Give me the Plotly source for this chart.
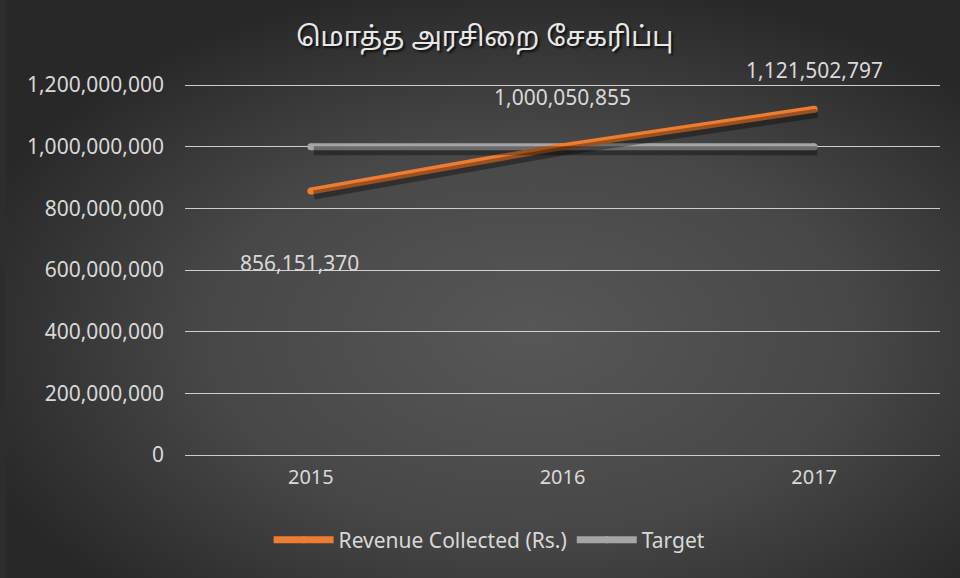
import base64
import plotly.graph_objects as go

# ---- data ----
years = ["2015", "2016", "2017"]
revenue = [856151370, 1000050855, 1121502797]
target = [1000000000, 1000000000, 1000000000]
y_ticks = [0, 200000000, 400000000, 600000000, 800000000, 1000000000, 1200000000]
title_text = "மொத்த அரசிறை சேகரிப்பு"
series_names = ["Revenue Collected (Rs.)", "Target"]

W, H = 960, 578
PAD = 4  # px of padding above/below the gridline extremes
L, R, T, B = 185, 20, 85 - PAD, 123 - PAD
PW, PH = W - L - R, H - T - B
YMAX = 1200000000
EPS = YMAX * PAD / (PH - 2 * PAD)

FONT = "Noto Sans, Open Sans, sans-serif"
TXT = "#d9d9d9"
ORANGE = "#ED7D31"
GRAY = "#A5A5A5"

# background radial gradient as svg image
svg = f'''<svg xmlns="http://www.w3.org/2000/svg" width="{W}" height="{H}" viewBox="0 0 {W} {H}" preserveAspectRatio="none">
<defs><radialGradient id="g" cx="0.55" cy="0.58" r="0.62" gradientUnits="objectBoundingBox">
<stop offset="0" stop-color="#575757"/><stop offset="0.55" stop-color="#474747"/><stop offset="1" stop-color="#282828"/>
</radialGradient></defs>
<rect width="{W}" height="{H}" fill="#2d2d2d"/>
<rect x="6" y="0" width="{W-6}" height="{H}" fill="url(#g)"/></svg>'''
bg_src = "data:image/svg+xml;base64," + base64.b64encode(svg.encode()).decode()

# shadow offsets via overlaid axes
dx = 3 * 3.0 / PW
dy = 4 * (YMAX + 2 * EPS) / PH

fig = go.Figure()

# shadows
for vals in (target, revenue):
    fig.add_trace(go.Scatter(x=[0, 1, 2], y=vals, mode="lines", xaxis="x2", yaxis="y2",
                             line=dict(color="rgba(0,0,0,0.35)", width=9), showlegend=False,
                             hoverinfo="skip"))

fig.add_trace(go.Scatter(x=years, y=target, mode="lines+markers", name=series_names[1],
                         line=dict(color=GRAY, width=7), marker=dict(size=7, color=GRAY),
                         legendrank=2))
fig.add_trace(go.Scatter(x=years, y=revenue, mode="lines+markers", name=series_names[0],
                         line=dict(color=ORANGE, width=7), marker=dict(size=7, color=ORANGE),
                         legendrank=1))

# data labels
shifts = [(-11, -72), (0, 50), (0, 39)]
annotations = []
for i, v in enumerate(revenue):
    annotations.append(dict(x=i, y=v, xref="x", yref="y", text=f"{v:,}", showarrow=False,
                            xshift=shifts[i][0], yshift=shifts[i][1],
                            font=dict(family=FONT, size=21, color=TXT)))

fig.update_layout(
    width=W, height=H,
    margin=dict(l=L, r=R, t=T, b=B),
    paper_bgcolor="#333333",
    plot_bgcolor="rgba(0,0,0,0)",
    annotations=annotations,
    images=[dict(source=bg_src, xref="paper", yref="paper",
                 x=-L / PW, y=1 + T / PH, sizex=W / PW, sizey=H / PH,
                 xanchor="left", yanchor="top", sizing="stretch", layer="below")],
    title=dict(text=title_text, x=0.505, xanchor="center", y=0.936, yanchor="middle",
               font=dict(family="Latha, Noto Sans Tamil, Noto Serif Tamil, Noto Sans, sans-serif",
                         size=27, color="#e8e8e8", shadow="2px 2px 2px #111")),
    xaxis=dict(type="category", range=[-0.5, 2.5], showgrid=False, zeroline=False,
               showline=False, ticks="", tickfont=dict(family=FONT, size=20, color=TXT),
               ticklabelstandoff=4),
    yaxis=dict(range=[-EPS, YMAX + EPS], tickvals=y_ticks, tickformat=",d", showgrid=True,
               gridcolor="rgba(230,230,230,0.85)", gridwidth=1, zeroline=False,
               showline=False, ticks="", tickfont=dict(family=FONT, size=21, color=TXT),
               ticklabelstandoff=20),
    xaxis2=dict(overlaying="x", range=[-0.5 - dx, 2.5 - dx], visible=False),
    yaxis2=dict(overlaying="y", range=[-EPS + dy, YMAX + EPS + dy], visible=False),
    legend=dict(orientation="h", xref="container", x=0.51, xanchor="center",
                yref="container", y=(H - 540) / H, yanchor="middle",
                font=dict(family=FONT, size=21, color=TXT), bgcolor="rgba(0,0,0,0)",
                itemwidth=60),
    showlegend=True,
)

fig.write_html("out.html", post_script="document.body.style.margin='0';",
               config={"displayModeBar": False})
